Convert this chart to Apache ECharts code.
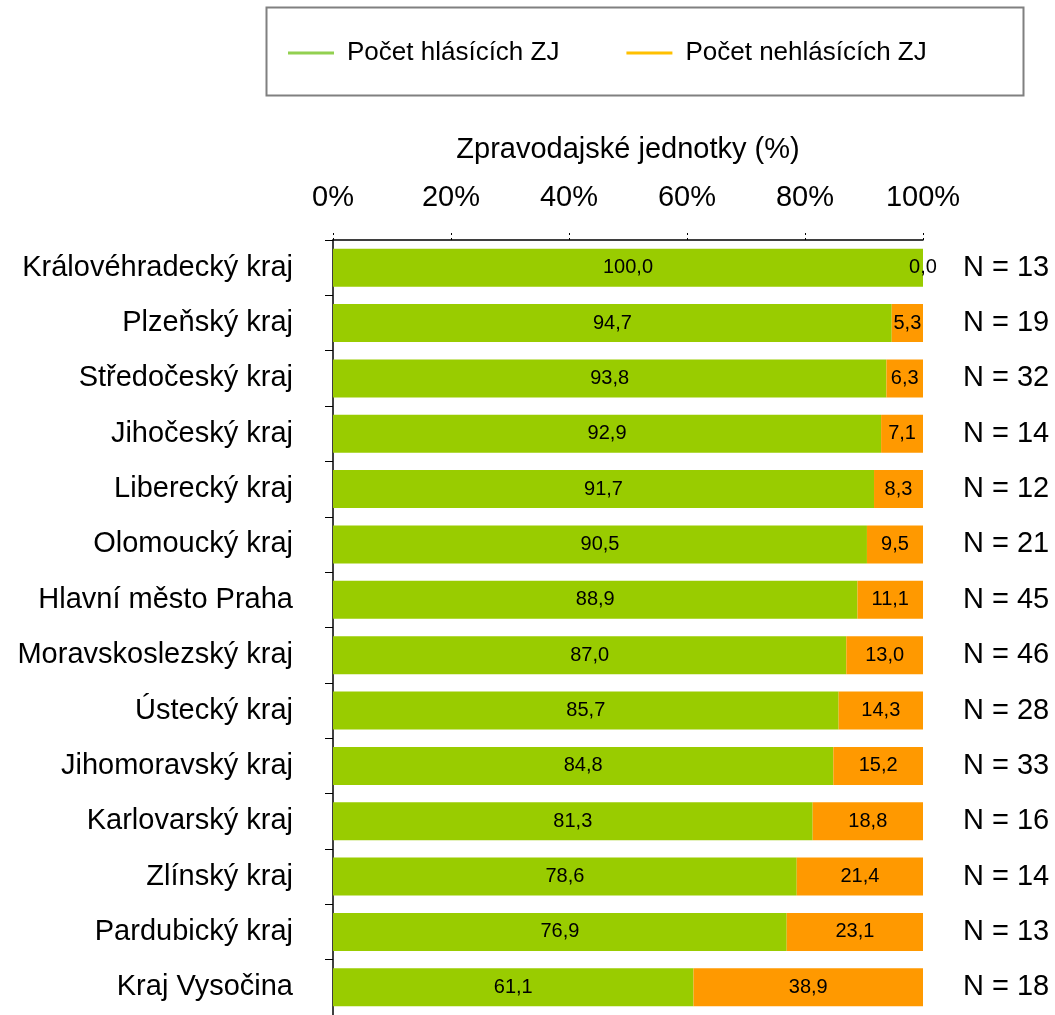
<!DOCTYPE html>
<html>
<head>
<meta charset="utf-8">
<script src="https://cdn.jsdelivr.net/npm/echarts@6/dist/echarts.min.js"></script>
<style>
html, body { margin: 0; padding: 0; background: #fff; }
#main { width: 1055px; height: 1015px; }
</style>
</head>
<body>
<div id="main"></div>
<script>
var kraje = ['Královéhradecký kraj', 'Plzeňský kraj', 'Středočeský kraj', 'Jihočeský kraj',
    'Liberecký kraj', 'Olomoucký kraj', 'Hlavní město Praha', 'Moravskoslezský kraj',
    'Ústecký kraj', 'Jihomoravský kraj', 'Karlovarský kraj', 'Zlínský kraj',
    'Pardubický kraj', 'Kraj Vysočina'];
var hlasici = [100.0, 94.7, 93.8, 92.9, 91.7, 90.5, 88.9, 87.0, 85.7, 84.8, 81.3, 78.6, 76.9, 61.1];
var nehlasici = [0.0, 5.3, 6.3, 7.1, 8.3, 9.5, 11.1, 13.0, 14.3, 15.2, 18.8, 21.4, 23.1, 38.9];
var pocetN = [13, 19, 32, 14, 12, 21, 45, 46, 28, 33, 16, 14, 13, 18];
var xTicks = [0, 20, 40, 60, 80, 100];

var font = 'Liberation Sans, Arial, sans-serif';
var myChart = echarts.init(document.getElementById('main'));

function fmt(p) {
    return p.value.toFixed(1).replace('.', ',');
}

var option = {
    animation: false,
    textStyle: { fontFamily: font },
    graphic: [{
        type: 'rect',
        left: 264, top: 5,
        shape: { width: 757, height: 88 },
        style: { fill: 'none', stroke: '#808080', lineWidth: 2 }
    }],
    legend: {
        left: 283,
        top: 35,
        itemWidth: 46,
        itemHeight: 3,
        itemGap: 67,
        icon: 'rect',
        textStyle: { fontFamily: font, fontSize: 26, color: '#000', padding: [0, 0, 0, 8] },
        data: [
            { name: 'Počet hlásících ZJ', itemStyle: { color: '#92D050' } },
            { name: 'Počet nehlásících ZJ', itemStyle: { color: '#FFC000' } }
        ]
    },
    grid: { left: 333, right: 132, top: 240, bottom: 0 },
    xAxis: {
        type: 'value',
        position: 'top',
        min: 0, max: 100, interval: 20,
        name: 'Zpravodajské jednotky (%)',
        nameLocation: 'middle',
        nameGap: 76,
        nameTextStyle: { fontFamily: font, fontSize: 29, color: '#000' },
        axisLine: { show: true, lineStyle: { color: '#000', width: 1.5 } },
        axisTick: { show: true, length: 9, lineStyle: { color: '#000', type: [2, 3] } },
        axisLabel: {
            fontFamily: font, fontSize: 29, color: '#000', margin: 28,
            formatter: function (v) { return xTicks.indexOf(v) >= 0 ? v + '%' : ''; }
        },
        splitLine: { show: false }
    },
    yAxis: [{
        type: 'category',
        data: kraje,
        inverse: true,
        axisLine: { show: true, lineStyle: { color: '#000', width: 1.5 } },
        axisTick: { show: true, length: 8, lineStyle: { color: '#000' } },
        axisLabel: { fontFamily: font, fontSize: 29, color: '#000', margin: 40 }
    }, {
        type: 'category',
        data: pocetN.map(function (n) { return 'N = ' + n; }),
        inverse: true,
        position: 'right',
        axisLine: { show: false },
        axisTick: { show: false },
        axisLabel: { fontFamily: font, fontSize: 29, color: '#000', margin: 40 }
    }],
    series: [{
        name: 'Počet hlásících ZJ',
        type: 'bar',
        stack: 'zj',
        barWidth: 38,
        data: hlasici,
        itemStyle: { color: '#99CC00' },
        label: { show: true, position: 'inside', color: '#000', fontFamily: font, fontSize: 20, formatter: fmt }
    }, {
        name: 'Počet nehlásících ZJ',
        type: 'bar',
        stack: 'zj',
        barWidth: 38,
        data: nehlasici,
        itemStyle: { color: '#FF9900' },
        label: { show: true, position: 'inside', color: '#000', fontFamily: font, fontSize: 20, formatter: fmt }
    }]
};

myChart.setOption(option);
</script>
</body>
</html>
